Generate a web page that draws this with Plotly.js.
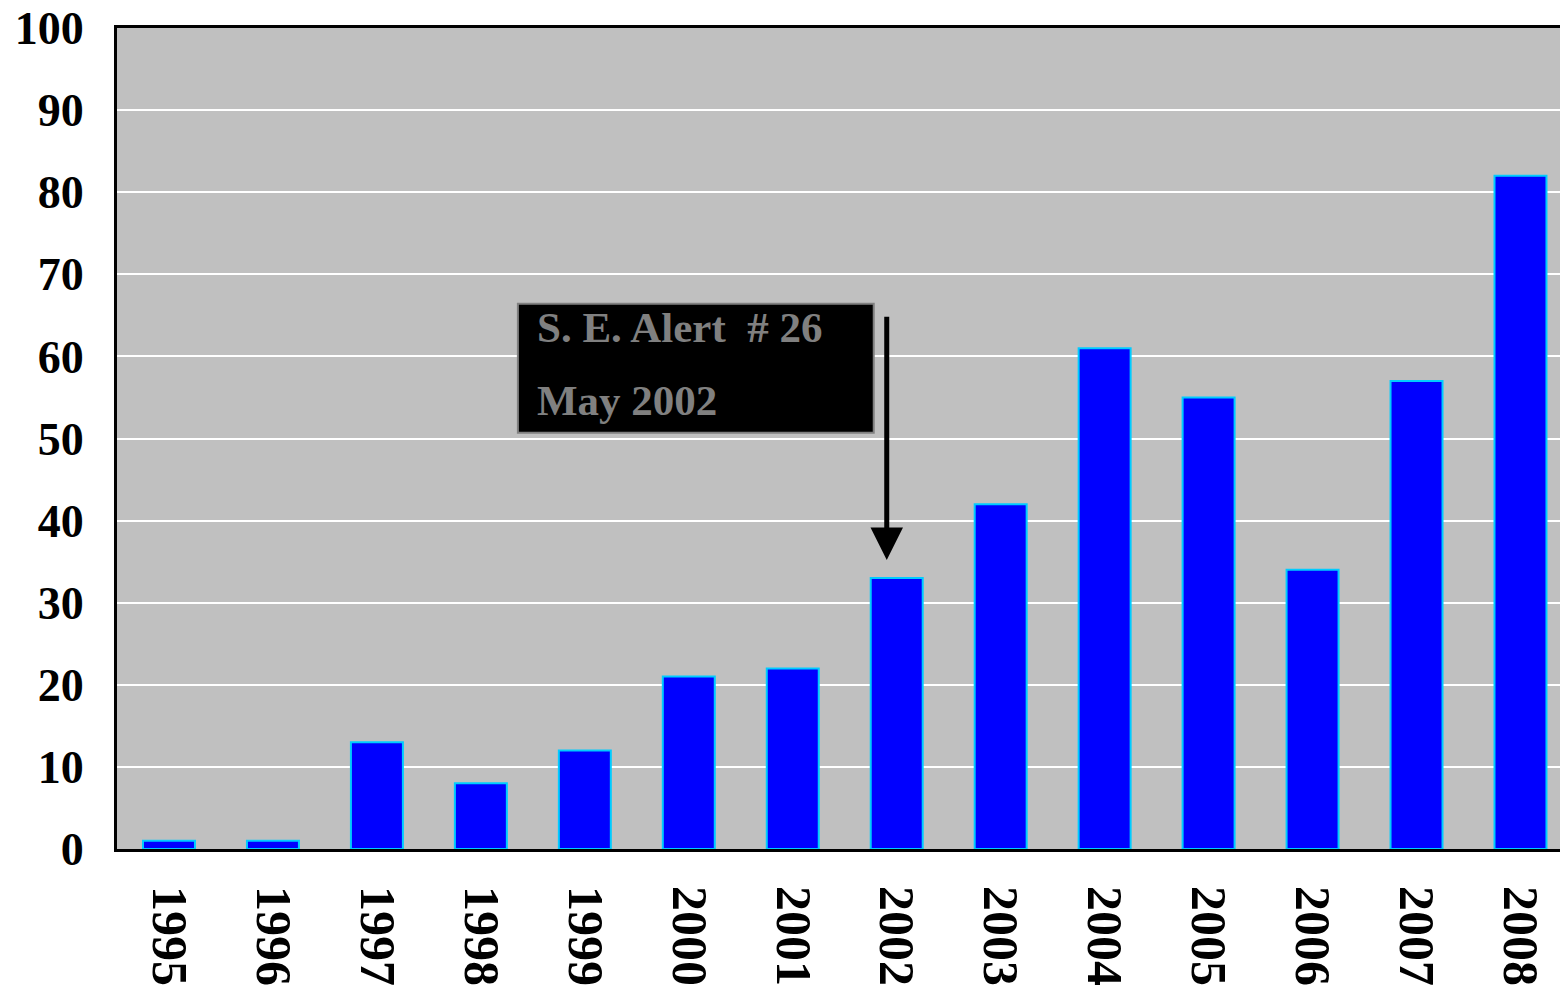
<!DOCTYPE html>
<html>
<head>
<meta charset="utf-8">
<script src="https://cdn.plot.ly/plotly-3.0.1.min.js"></script>
<style>html,body{margin:0;padding:0;background:#fff;}#chart{width:1560px;height:990px;}</style>
</head>
<body>
<div id="chart"></div>
<script>
const years = ['1995','1996','1997','1998','1999','2000','2001','2002','2003','2004','2005','2006','2007','2008'];
const counts = [1, 1, 13, 8, 12, 21, 22, 33, 42, 61, 55, 34, 57, 82];
const yTicks = [0,10,20,30,40,50,60,70,80,90,100];
const noteLines = ['S. E. Alert\u00a0 # 26', 'May 2002'];

const font = {family: 'Liberation Serif, Times New Roman, serif', weight: 'bold', color: '#000'};

const trace = {
  type: 'bar',
  x: years,
  y: counts,
  marker: {color: '#0000FF', line: {color: '#00CCFF', width: 2}},
  hoverinfo: 'skip'
};

const layout = {
  width: 1560, height: 990,
  margin: {l: 117, r: 0, t: 28, b: 141},
  paper_bgcolor: '#FFFFFF',
  plot_bgcolor: '#C0C0C0',
  bargap: 0.5,
  showlegend: false,
  xaxis: {
    type: 'category',
    range: [-0.5, 13.38],
    tickangle: 90,
    tickfont: Object.assign({size: 50}, font),
    showline: true, linecolor: '#000', linewidth: 3, mirror: true,
    ticks: 'outside', ticklen: 24, tickcolor: 'rgba(0,0,0,0)',
    showgrid: false, zeroline: false, fixedrange: true
  },
  yaxis: {
    range: [0, 100],
    tickvals: yTicks,
    ticktext: yTicks.map(String),
    tickfont: Object.assign({size: 46}, font),
    showline: true, linecolor: '#000', linewidth: 3,
    ticks: 'outside', ticklen: 21, tickcolor: 'rgba(0,0,0,0)',
    showgrid: true, gridcolor: '#FFFFFF', gridwidth: 2,
    zeroline: false, fixedrange: true
  },
  shapes: [{
    type: 'rect', xref: 'x', yref: 'y',
    x0: 3.356, x1: 6.779, y0: 50.7, y1: 66.4,
    fillcolor: '#000000', line: {color: '#808080', width: 2}, layer: 'above'
  }],
  annotations: [
    {xref: 'x', yref: 'y', x: 3.52, y: 63.5, xanchor: 'left', yanchor: 'middle',
     text: noteLines[0], showarrow: false,
     font: Object.assign({}, font, {size: 43, color: '#808080'})},
    {xref: 'x', yref: 'y', x: 3.52, y: 54.6, xanchor: 'left', yanchor: 'middle',
     text: noteLines[1], showarrow: false,
     font: Object.assign({}, font, {size: 43, color: '#808080'})},
    {xref: 'x', yref: 'y', x: 6.904, y: 35.2, axref: 'x', ayref: 'y', ax: 6.904, ay: 65.0,
     text: '', showarrow: true, arrowhead: 2, arrowsize: 1.3, arrowwidth: 5, arrowcolor: '#000'}
  ]
};

Plotly.newPlot('chart', [trace], layout, {displayModeBar: false, staticPlot: true});
</script>
</body>
</html>
